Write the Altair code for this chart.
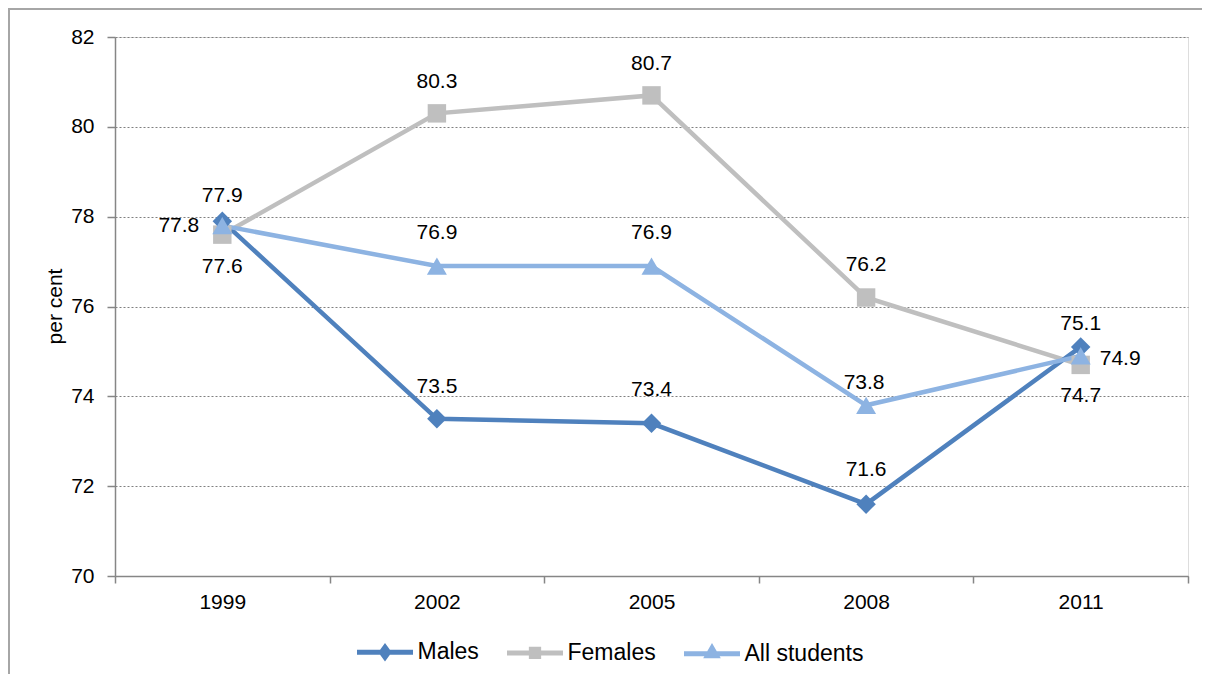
import altair as alt
import pandas as pd

# ---- data ----
years = ["1999", "2002", "2005", "2008", "2011"]
males = [77.9, 73.5, 73.4, 71.6, 75.1]
females = [77.6, 80.3, 80.7, 76.2, 74.7]
all_students = [77.8, 76.9, 76.9, 73.8, 74.9]
series_names = ["Males", "Females", "All students"]
y_ticks = [70, 72, 74, 76, 78, 80, 82]

# ---- styling (label placement, colours, markers) ----
colors = {"Males": "#4F81BD", "Females": "#BFBFBF", "All students": "#8DB3E2"}
shapes = {"Males": "diamond", "Females": "square", "All students": "triangle-up"}
sizes = {"Males": 380, "Females": 340, "All students": 400}
label_dx = {"Males": [0, 0, 0, 0, 0], "Females": [0, 0, 0, 0, 0],
            "All students": [-23, 0, 0, -2, 19]}
label_dy = {"Males": [-25, -32, -33, -34, -23], "Females": [32, -31, -31, -33, 31],
            "All students": [0, -33, -33, -22, 3]}
label_align = {"Males": ["center"] * 5, "Females": ["center"] * 5,
               "All students": ["right", "center", "center", "center", "left"]}
legend_paths = [
    "M-1,0L1,0M0,-0.18L0.13,0L0,0.18L-0.13,0Z",
    "M-1,0L1,0M-0.13,-0.13L0.13,-0.13L0.13,0.13L-0.13,0.13Z",
    "M-1,0L1,0M0,-0.2L0.16,0.08L-0.16,0.08Z",
]

FONT = "Liberation Sans"

values = {"Males": males, "Females": females, "All students": all_students}
rows = []
for s in series_names:
    for y, v in zip(years, values[s]):
        rows.append({"series": s, "year": y, "value": v})
df = pd.DataFrame(rows)

x_enc = alt.X(
    "year:N",
    sort=years,
    scale=alt.Scale(type="band", domain=years, paddingInner=0, paddingOuter=0),
    axis=alt.Axis(
        title=None, labelAngle=0, tickBand="extent", grid=False,
        domainColor="#868686", domainWidth=1.5, tickColor="#868686", tickWidth=1.5,
        tickSize=7, labelPadding=8, labelFont=FONT, labelFontSize=21, labelColor="#000000",
    ),
)
y_enc = alt.Y(
    "value:Q",
    scale=alt.Scale(domain=[70, 82], nice=False, zero=False),
    axis=alt.Axis(
        values=y_ticks, title="per cent", grid=True, gridDash=[2, 2], gridColor="#808080",
        gridWidth=1, domainColor="#868686", domainWidth=1.5, tickColor="#868686",
        tickWidth=1.5, tickSize=8, labelPadding=13, labelFont=FONT, labelFontSize=21,
        labelColor="#000000", titleFont=FONT, titleFontSize=21, titleFontWeight="normal",
        titleColor="#000000", titleX=-60, titleY=269, titleBaseline="middle",
        titleAlign="center", titleAngle=270,
    ),
)

base = alt.Chart(df)
layers = []

# frame around the whole chart
frame = alt.Chart(pd.DataFrame({"a": [0]})).mark_rect(
    fillOpacity=0, stroke="#A6A6A6", strokeWidth=2
).encode(x=alt.value(-106), y=alt.value(-28), x2=alt.value(1300), y2=alt.value(900))
layers.append(frame)

draw_order = ["Females", "Males", "All students"]
for s in draw_order:
    sub = base.transform_filter(alt.datum.series == s)
    layers.append(sub.mark_line(color=colors[s], strokeWidth=4.5).encode(x=x_enc, y=y_enc))
for s in draw_order:
    sub = base.transform_filter(alt.datum.series == s)
    layers.append(
        sub.mark_point(shape=shapes[s], filled=True, size=sizes[s], color=colors[s], opacity=1)
        .encode(x=x_enc, y=y_enc)
    )

# data labels
for s in series_names:
    for i, yr in enumerate(years):
        sub = base.transform_filter((alt.datum.series == s) & (alt.datum.year == yr))
        layers.append(
            sub.mark_text(
                font=FONT, fontSize=21, color="#000000", baseline="middle",
                align=label_align[s][i], dx=label_dx[s][i], dy=label_dy[s][i],
            ).encode(x=x_enc, y=y_enc, text=alt.Text("value:Q", format=".1f"))
        )

# legend (from an empty layer)
leg = alt.Legend(
    title=None, orient="none", legendX=239.5, legendY=584.5, direction="horizontal",
    symbolSize=3136, symbolStrokeWidth=5, labelFont=FONT, labelFontSize=23,
    labelColor="#000000", labelOffset=2, columnPadding=17, padding=0, symbolOpacity=1,
)
legend_layer = base.transform_filter("false").mark_point(
    filled=True, strokeWidth=5, opacity=1
).encode(
    x=x_enc, y=y_enc,
    fill=alt.Fill("series:N", scale=alt.Scale(domain=series_names,
                                             range=[colors[s] for s in series_names]), legend=leg),
    stroke=alt.Stroke("series:N", scale=alt.Scale(domain=series_names,
                                                 range=[colors[s] for s in series_names]), legend=leg),
    shape=alt.Shape("series:N", scale=alt.Scale(domain=series_names, range=legend_paths), legend=leg),
)
layers.append(legend_layer)

chart = alt.layer(*layers).properties(
    width=1073, height=539,
    padding={"left": 107, "top": 29, "right": 14, "bottom": 98},
    autosize=alt.AutoSizeParams(type="none"),
).configure_view(stroke=None).configure(background="#FFFFFF")

chart.save("out.html", embed_options={"renderer": "svg", "actions": False})
